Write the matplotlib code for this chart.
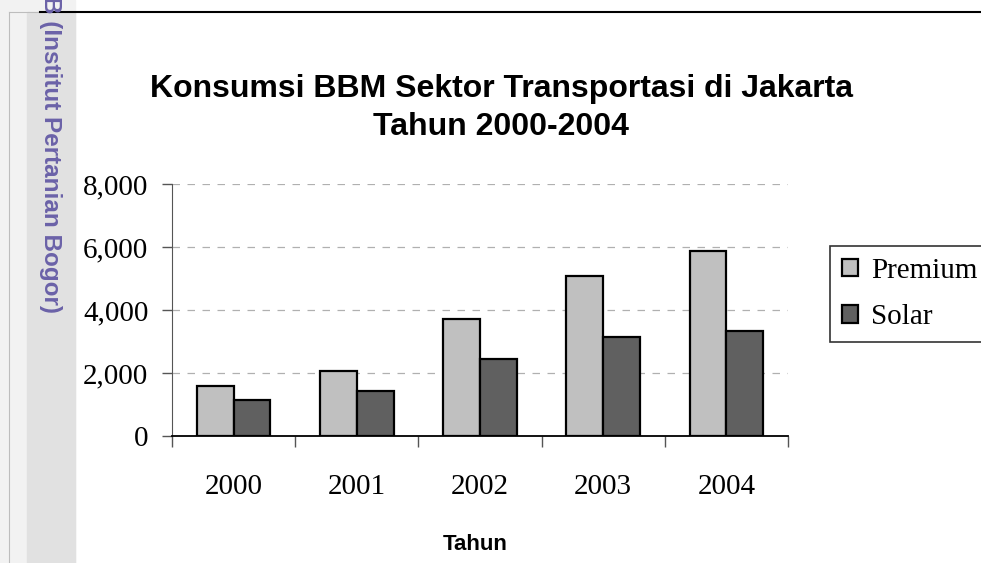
import matplotlib.pyplot as plt
from matplotlib.ticker import FuncFormatter
from matplotlib.patches import Rectangle
import numpy as np

# Data
years = ['2000', '2001', '2002', '2003', '2004']
premium = [1600, 2050, 3700, 5080, 5870]
solar = [1150, 1430, 2430, 3130, 3330]

W, H = 981, 563
fig = plt.figure(figsize=(W / 100, H / 100), dpi=100)
fig.patch.set_facecolor('white')

# Left margin strip of the scanned page
fig.patches.append(Rectangle((0, 0), 75 / W, 1, transform=fig.transFigure, color='#f2f2f2', zorder=0))
fig.patches.append(Rectangle((27 / W, 0), 48 / W, 1 - 12 / H, transform=fig.transFigure, color='#e1e1e1', zorder=0))
fig.add_artist(plt.Line2D([9 / W, 9 / W], [0, 1 - 12 / H], color='#bdbdbd', lw=0.8))
fig.add_artist(plt.Line2D([9 / W, 40 / W], [1 - 12 / H, 1 - 12 / H], color='#bdbdbd', lw=0.8))
fig.add_artist(plt.Line2D([40 / W, 1], [1 - 12 / H, 1 - 12 / H], color='black', lw=1.5))
fig.text(50 / W, 1 + 4 / H, 'B (Institut Pertanian Bogor)', rotation=-90, ha='center', va='top',
         color='#6b62a8', fontsize=17.5, fontweight='bold', family='Liberation Sans')

# Plot area
ax = fig.add_axes([172 / W, (H - 436) / H, (788 - 172) / W, (436 - 184) / H])
x = np.arange(len(years))
bw = 0.298
ax.bar(x - bw / 2, premium, bw, color='#c0c0c0', edgecolor='black', linewidth=1.6, label='Premium', zorder=3)
ax.bar(x + bw / 2, solar, bw, color='#606060', edgecolor='black', linewidth=1.6, label='Solar', zorder=3)

ax.set_xlim(-0.5, len(years) - 0.5)
ax.set_ylim(0, 8000)
ax.set_yticks([0, 2000, 4000, 6000, 8000])
ax.yaxis.set_major_formatter(FuncFormatter(lambda v, p: f'{int(v):,}'))
ax.grid(axis='y', linestyle=(0, (6, 6)), color='#b0b0b0', linewidth=0.9, zorder=0)

ax.set_xticks(np.arange(-0.5, len(years), 1.0))
ax.set_xticklabels([])
ax.set_xticks(x, minor=True)
ax.set_xticklabels(years, minor=True)
ax.tick_params(axis='x', which='major', direction='out', length=8, width=1, color='#555555')
ax.tick_params(axis='x', which='minor', length=0, pad=27)
ax.tick_params(axis='y', direction='out', length=7, width=1, color='#555555', pad=10)
for lbl in ax.get_xticklabels(minor=True) + ax.get_yticklabels():
    lbl.set_family('Liberation Serif')
    lbl.set_fontsize(21)

for s in ['top', 'right']:
    ax.spines[s].set_visible(False)
ax.spines['left'].set_color('#555555')
ax.spines['bottom'].set_color('black')
ax.spines['bottom'].set_linewidth(1.3)

fig.text(501 / W, 1 - 108 / H, 'Konsumsi BBM Sektor Transportasi di Jakarta\nTahun 2000-2004',
         ha='center', va='center', fontsize=23, fontweight='bold', family='Liberation Sans',
         linespacing=1.38)
fig.text(475 / W, 1 - 545 / H, 'Tahun', ha='center', va='center', fontsize=16,
         fontweight='bold', family='Liberation Sans')

leg = fig.legend(loc='upper left', bbox_to_anchor=(830 / W, 1 - 246 / H), frameon=True,
                 prop={'family': 'Liberation Serif', 'size': 21}, handlelength=0.55, handleheight=0.55,
                 handletextpad=0.45, borderpad=0.4, labelspacing=0.7, fancybox=False, borderaxespad=0)
leg.get_frame().set_edgecolor('black')
leg.get_frame().set_linewidth(1.2)

fig.savefig('out.png', dpi=100)
